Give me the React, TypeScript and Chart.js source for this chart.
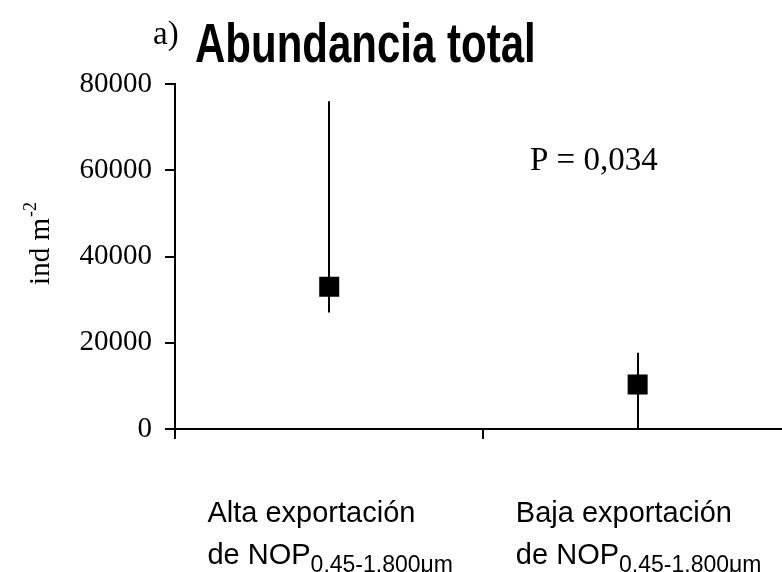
import React, { useEffect, useRef } from "react";
import { Chart, registerables } from "chart.js";

Chart.register(...registerables);

// ---- data ----
const categories = ["Alta exportación", "Baja exportación"];
const labelLine2 = ["de NOP", "de NOP"];
const labelSub = ["0,45-1.800\u03bcm", "0,45-1.800\u03bcm"];
const means = [33000, 10300];
const lows = [27000, 0];
const highs = [76000, 17700];
const yTicks = [0, 20000, 40000, 60000, 80000];
const titlePrefix = "a)";
const titleText = "Abundancia total";
const pText = "P = 0,034";
const yLabelMain = "ind m";
const yLabelSup = "-2";

const SERIF = "'Liberation Serif', 'Times New Roman', serif";
const SANS = "'Liberation Sans', Arial, sans-serif";

const customPlugin = {
  id: "customDraw",
  beforeDatasetsDraw(chart: any) {
    const ctx = chart.ctx;
    const xs = chart.scales.x;
    const ys = chart.scales.y;
    ctx.save();
    ctx.strokeStyle = "#000";
    ctx.lineWidth = 2;
    means.forEach((_, i) => {
      const px = Math.round(xs.getPixelForValue(i));
      ctx.beginPath();
      ctx.moveTo(px, ys.getPixelForValue(lows[i]));
      ctx.lineTo(px, ys.getPixelForValue(highs[i]));
      ctx.stroke();
    });
    ctx.restore();
  },
  afterDraw(chart: any) {
    const ctx = chart.ctx;
    const xs = chart.scales.x;
    ctx.save();
    ctx.fillStyle = "#000";
    ctx.textBaseline = "alphabetic";
    ctx.textAlign = "left";

    // title
    ctx.font = `33px ${SERIF}`;
    ctx.fillText(titlePrefix, 153, 44);
    ctx.save();
    ctx.translate(195, 62);
    ctx.scale(1, 1.3);
    ctx.font = `bold 42px ${SANS}`;
    ctx.fillText(titleText, 0, 0);
    ctx.restore();

    // P annotation
    ctx.font = `33px ${SERIF}`;
    ctx.fillText(pText, 530, 170);

    // y axis label
    ctx.save();
    ctx.translate(49, 244);
    ctx.rotate(-Math.PI / 2);
    ctx.font = `29px ${SERIF}`;
    const mw = ctx.measureText(yLabelMain).width;
    ctx.font = `18px ${SERIF}`;
    const sw = ctx.measureText(yLabelSup).width;
    const start = -(mw + sw) / 2;
    ctx.font = `29px ${SERIF}`;
    ctx.fillText(yLabelMain, start, 0);
    ctx.font = `18px ${SERIF}`;
    ctx.fillText(yLabelSup, start + mw + 1, -13);
    ctx.restore();

    // category labels
    categories.forEach((cat, i) => {
      const cx = xs.getPixelForValue(i) + 1;
      ctx.font = `29px ${SANS}`;
      const w1 = ctx.measureText(cat).width;
      const w2a = ctx.measureText(labelLine2[i]).width;
      ctx.font = `23px ${SANS}`;
      const w2b = ctx.measureText(labelSub[i]).width;
      const block = Math.max(w1, w2a + w2b);
      const left = cx - block / 2;
      ctx.font = `29px ${SANS}`;
      ctx.fillText(cat, left, 522);
      ctx.fillText(labelLine2[i], left, 564);
      ctx.font = `23px ${SANS}`;
      ctx.fillText(labelSub[i], left + w2a, 572);
    });
    ctx.restore();
  },
};

export default function App() {
  const ref = useRef<HTMLCanvasElement | null>(null);

  useEffect(() => {
    if (!ref.current) return;
    const chart = new Chart(ref.current, {
      type: "line",
      data: {
        labels: categories,
        datasets: [
          {
            data: means,
            showLine: false,
            pointStyle: "rect",
            pointRadius: 14.14,
            pointHoverRadius: 14.14,
            pointBackgroundColor: "#000",
            pointBorderColor: "#000",
            pointBorderWidth: 0,
            borderColor: "#000",
            backgroundColor: "#000",
          },
        ],
      },
      options: {
        animation: false,
        responsive: false,
        devicePixelRatio: 1,
        layout: { padding: { top: 84, right: 3, left: 0, bottom: 0 } },
        plugins: {
          legend: { display: false },
          tooltip: { enabled: false },
          title: { display: false },
        },
        scales: {
          x: {
            type: "category",
            offset: true,
            grid: {
              offset: true,
              drawOnChartArea: false,
              drawTicks: true,
              tickLength: 10,
              color: "#000",
              lineWidth: 2,
            },
            border: { display: true, color: "#000", width: 2 },
            ticks: { display: false },
            afterFit: (s: any) => {
              s.height = 143;
            },
          },
          y: {
            min: 0,
            max: 80000,
            afterBuildTicks: (s: any) => {
              s.ticks = yTicks.map((v) => ({ value: v }));
            },
            ticks: {
              color: "#000",
              padding: 13,
              font: { family: SERIF, size: 29 },
              callback: (v: any) => String(v),
            },
            grid: {
              drawOnChartArea: false,
              drawTicks: true,
              tickLength: 10,
              color: "#000",
              lineWidth: 2,
            },
            border: { display: true, color: "#000", width: 2 },
            afterFit: (s: any) => {
              s.width = 175;
            },
          },
        },
      },
      plugins: [customPlugin],
    });
    return () => chart.destroy();
  }, []);

  return (
    <div
      style={{
        position: "absolute",
        left: 0,
        top: 0,
        width: 782,
        height: 572,
        overflow: "hidden",
        background: "#fff",
      }}
    >
      <canvas ref={ref} width={806} height={572} style={{ display: "block" }} />
    </div>
  );
}
